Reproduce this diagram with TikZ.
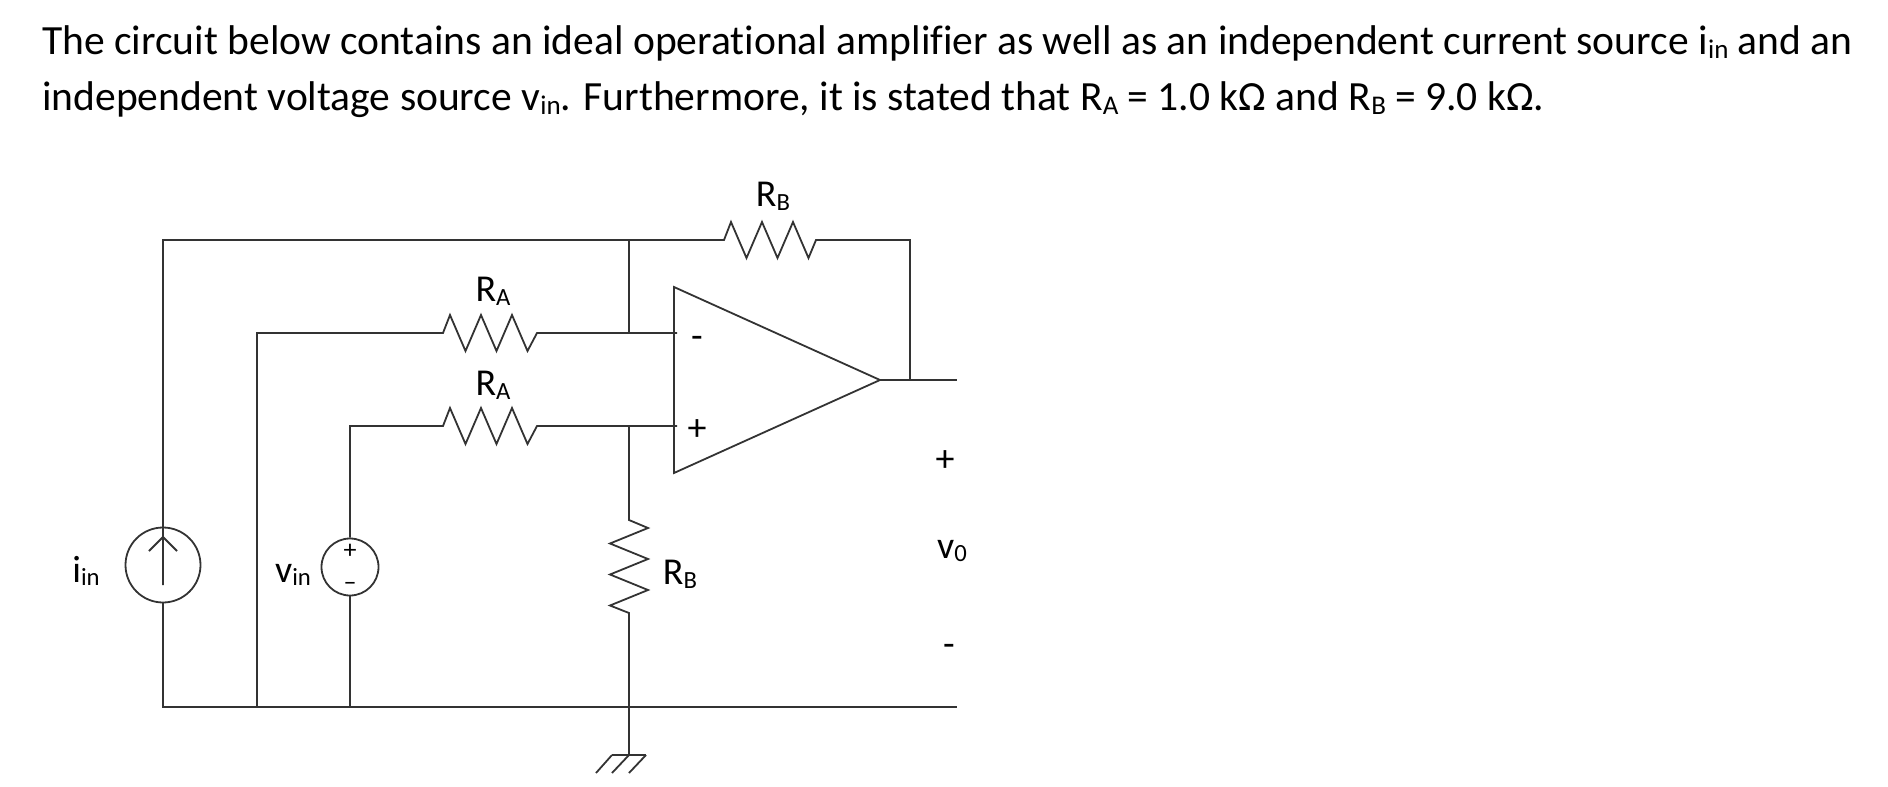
\documentclass[tikz,border=0pt]{standalone}
\usepackage{fontspec}
\setmainfont[Ligatures=NoCommon]{Carlito}
\usepackage{graphicx}
\usepackage{xcolor}
\definecolor{wirecol}{HTML}{333333}
\newcommand{\lowtxt}[1]{\raisebox{-0.1em}{\scalebox{0.65}{#1}}}
\begin{document}
\begin{tikzpicture}[x=1pt,y=-1pt,font=\fontsize{41.55}{48}\selectfont,
  wire/.style={draw=wirecol, line width=1.8pt, line join=miter},
  reshoriz/.style={to path={-- ++(7,-18) -- ++(15.5,36) -- ++(15.5,-36) -- ++(15.5,36) -- ++(15.5,-36) -- ++(15.5,36) -- (\tikztotarget)}},
  resvert/.style={to path={-- ++(19,8) -- ++(-38,15.5) -- ++(38,15.5) -- ++(-38,15.5) -- ++(38,15.5) -- ++(-38,15.5) -- (\tikztotarget)}},
  src/.style={draw=wirecol, line width=1.8pt, circle, inner sep=0pt},
  lbl/.style={inner sep=0pt, font=\fontsize{38}{42}\selectfont},
  tinysign/.style={inner sep=0pt, font=\fontsize{26}{26}\selectfont},
  txtline/.style={anchor=base west, inner sep=0pt},
]
\useasboundingbox (0,0) rectangle (1888,787);
\node[txtline] (lineone) at (42,54) {The circuit below contains an ideal operational amplifier as well as an independent current source i\lowtxt{in} and an};
\node[txtline] (linetwo) at (42,110) {independent voltage source v\lowtxt{in}. Furthermore, it is stated that R\lowtxt{A} = 1.0 kΩ and R\lowtxt{B} = 9.0 kΩ.};

\coordinate (topleft) at (163,240);
\coordinate (topjoin) at (629,240);
\coordinate (rbin) at (724,240);
\coordinate (rbout) at (816,240);
\coordinate (topright) at (910,240);
\coordinate (amptop) at (674,287);
\coordinate (ampbot) at (674,473);
\coordinate (amptip) at (880,380);
\coordinate (outjoin) at (910,380);
\coordinate (outend) at (957,380);
\coordinate (minusend) at (677,333);
\coordinate (minusjoin) at (629,333);
\coordinate (minusleft) at (257,333);
\coordinate (raoneout) at (537,333);
\coordinate (raonein) at (443,333);
\coordinate (plusend) at (677,426);
\coordinate (plusjoin) at (629,426);
\coordinate (plusleft) at (350,426);
\coordinate (ratwoout) at (537,426);
\coordinate (ratwoin) at (443,426);
\coordinate (rvin) at (629,520);
\coordinate (rvout) at (629,613);
\coordinate (botleft) at (163,707);
\coordinate (botmid) at (257,707);
\coordinate (botvin) at (350,707);
\coordinate (botjoin) at (629,707);
\coordinate (botend) at (957,707);
\coordinate (gndtop) at (629,755);
\coordinate (gndl) at (612,755);
\coordinate (gndr) at (646,755);
\coordinate (gndla) at (596,773);
\coordinate (gndma) at (612,773);
\coordinate (gndra) at (629,773);
\coordinate (itip) at (163,537);
\coordinate (itail) at (163,585);
\coordinate (iwingl) at (149,551);
\coordinate (iwingr) at (177,551);

\node[src, minimum size=75pt] (isrc) at (163,565) {};
\node[src, minimum size=57pt] (vsrc) at (350,567) {};
\node[tinysign] (vplus) at (350,551) {+};
\node[tinysign] (vminus) at (350,586) {–};

\draw[wire] (amptop) -- (amptip) -- (ampbot) -- cycle;
\draw[wire] (itail) -- (topleft) -- (topjoin) -- (rbin) to[reshoriz] (rbout) -- (topright) -- (outjoin);
\draw[wire] (topjoin) -- (minusjoin);
\draw[wire] (amptip) -- (outend);
\draw[wire] (vsrc.north) -- (plusleft) -- (ratwoin) to[reshoriz] (ratwoout) -- (plusend);
\draw[wire] (botmid) -- (minusleft) -- (raonein) to[reshoriz] (raoneout) -- (minusend);
\draw[wire] (plusjoin) -- (rvin) to[resvert] (rvout) -- (gndtop);
\draw[wire] (isrc.south) -- (botleft) -- (botend);
\draw[wire] (vsrc.south) -- (botvin);
\draw[wire] (gndl) -- (gndr);
\draw[wire] (gndl) -- (gndla);
\draw[wire] (gndtop) -- (gndma);
\draw[wire] (gndr) -- (gndra);
\draw[wire] (iwingl) -- (itip) -- (iwingr);

\node[lbl] (rbtop) at (773,196) {R\lowtxt{B}};
\node[lbl] (raone) at (493,291) {R\lowtxt{A}};
\node[lbl] (ratwo) at (493,385) {R\lowtxt{A}};
\node[lbl] (rbbot) at (680,574) {R\lowtxt{B}};
\node[lbl] (iin) at (86,571) {i\lowtxt{in}};
\node[lbl] (vin) at (293,575) {v\lowtxt{in}};
\node[lbl] (vzero) at (952,551) {v\lowtxt{0}};
\node[lbl] (ampminus) at (697,342) {-};
\node[lbl] (ampplus) at (697,430) {+};
\node[lbl] (outplus) at (945,461) {+};
\node[lbl] (outminus) at (949,650) {-};
\end{tikzpicture}
\end{document}
